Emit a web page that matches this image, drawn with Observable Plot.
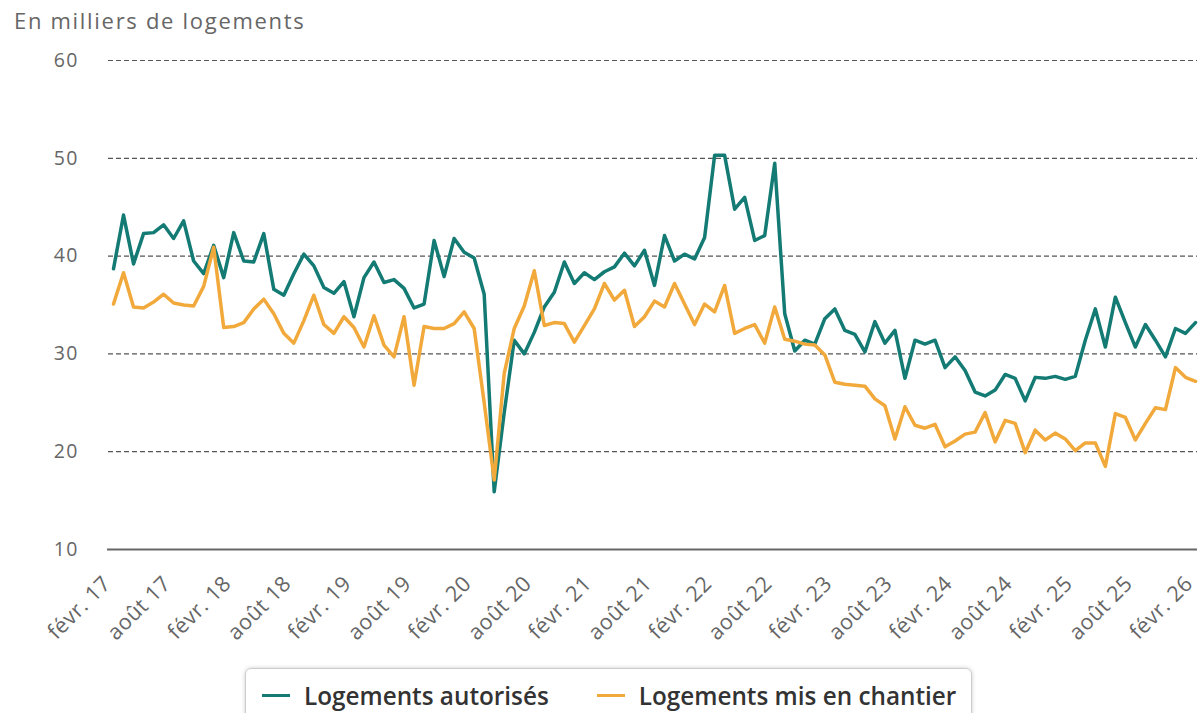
<!DOCTYPE html>
<html>
<head>
<meta charset="utf-8">
<script src="https://cdn.jsdelivr.net/npm/d3@7"></script>
<script src="https://cdn.jsdelivr.net/npm/@observablehq/plot@0.6"></script>
<style>
  html, body { margin: 0; padding: 0; background: #fff; }
  body { width: 1201px; height: 713px; overflow: hidden; font-family: "Open Sans", sans-serif; }
  #title { height: 40px; line-height: 40px; padding-left: 14px; font-size: 22px; letter-spacing: 1.7px; color: #666; }
  #legend { margin-left: 245px; margin-top: 3px; width: 727px; height: 54px; border: 1px solid #ccc; border-radius: 6px;
            box-shadow: 0 0 4px rgba(0,0,0,0.2); display: flex; align-items: center; box-sizing: border-box; padding-left: 16px; }
  .item { display: flex; align-items: center; font-size: 24.3px; font-weight: 600; color: #333; }
  .sw { width: 28px; height: 3px; margin-right: 14px; }
</style>
</head>
<body>
<div id="title">En milliers de logements</div>
<div id="chart"></div>
<div id="legend"></div>
<script>
const seriesNames = ["Logements autorisés", "Logements mis en chantier"];
const seriesColors = ["#137a74", "#f2a93b"];
const tickLabels = ["févr. 17","août 17","févr. 18","août 18","févr. 19","août 19","févr. 20","août 20","févr. 21","août 21","févr. 22","août 22","févr. 23","août 23","févr. 24","août 24","févr. 25","août 25","févr. 26"];
const yTicks = [10, 20, 30, 40, 50, 60];

const autorises = [38.7,44.2,39.2,42.3,42.4,43.2,41.8,43.6,39.5,38.2,41.1,37.8,42.4,39.5,39.4,42.3,36.6,36.0,38.2,40.2,39.0,36.8,36.2,37.4,33.8,37.8,39.4,37.3,37.6,36.7,34.7,35.1,41.6,37.9,41.8,40.4,39.8,36.1,15.9,24.0,31.4,30.0,32.2,34.8,36.3,39.4,37.2,38.3,37.6,38.4,38.9,40.3,39.0,40.6,37.0,42.1,39.5,40.2,39.7,41.9,50.3,50.3,44.8,46.0,41.6,42.1,49.5,34.1,30.3,31.4,31.0,33.6,34.6,32.4,32.0,30.2,33.3,31.1,32.4,27.5,31.4,31.0,31.4,28.6,29.7,28.3,26.1,25.7,26.3,27.9,27.5,25.2,27.6,27.5,27.7,27.4,27.7,31.4,34.6,30.7,35.8,33.2,30.7,33.0,31.4,29.7,32.6,32.1,33.2];
const chantier = [35.1,38.3,34.8,34.7,35.3,36.1,35.2,35.0,34.9,36.9,40.9,32.7,32.8,33.2,34.6,35.6,34.1,32.1,31.1,33.4,36.0,33.0,32.1,33.8,32.7,30.7,33.9,30.9,29.7,33.8,26.8,32.8,32.6,32.6,33.1,34.3,32.6,25.0,17.1,28.0,32.6,34.9,38.5,32.9,33.2,33.1,31.2,32.9,34.6,37.2,35.5,36.5,32.8,33.8,35.4,34.8,37.2,35.1,33.0,35.1,34.3,37.0,32.1,32.6,33.0,31.1,34.8,31.5,31.3,31.0,30.9,29.9,27.1,26.9,26.8,26.7,25.4,24.7,21.3,24.6,22.7,22.4,22.8,20.5,21.1,21.8,22.0,24.0,21.0,23.2,22.9,19.9,22.2,21.2,21.9,21.3,20.1,20.9,20.9,18.5,23.9,23.5,21.2,22.9,24.5,24.3,28.6,27.6,27.2];

const rows = [];
autorises.forEach((v, i) => rows.push({i, v, serie: seriesNames[0]}));
chantier.forEach((v, i) => rows.push({i, v, serie: seriesNames[1]}));
const xTicks = d3.range(0, autorises.length, 6);

const chart = Plot.plot({
  width: 1201,
  height: 625,
  marginTop: 20,
  marginBottom: 116,
  marginLeft: 113,
  marginRight: 6,
  style: { fontFamily: "'Open Sans', sans-serif", color: "#666", background: "transparent", overflow: "visible" },
  x: { domain: [0, autorises.length - 1] },
  y: { domain: [10, 60] },
  color: { domain: seriesNames, range: seriesColors },
  marks: [
    Plot.ruleY(yTicks.slice(1), { stroke: "#555", strokeWidth: 1.2, strokeDasharray: "5,3", insetLeft: -5, insetRight: -2 }),
    Plot.ruleY([10], { stroke: "#666", strokeWidth: 2, insetLeft: -6, insetRight: -2 }),
    Plot.axisY({ ticks: yTicks, tickSize: 0, tickPadding: 35, fontSize: 19.5, label: null }),
    Plot.axisX({ ticks: xTicks, tickFormat: i => tickLabels[i / 6], tickRotate: -45, tickSize: 0, tickPadding: 12, fontSize: 21.5, label: null }),
    Plot.line(rows, { x: "i", y: "v", z: "serie", stroke: "serie", strokeWidth: 3.5, strokeLinejoin: "round" })
  ]
});
chart.querySelectorAll('g[aria-label="y-axis tick label"] text').forEach(t => t.style.letterSpacing = "1.2px");
// place rotated month labels: baseline end just below each tick, at -45°
const xs = chart.scale("x");
const ys = chart.scale("y");
const gx = chart.querySelector('g[aria-label="x-axis tick label"]');
if (gx) {
  gx.removeAttribute("transform");
  gx.setAttribute("text-anchor", "end");
  gx.querySelectorAll("text").forEach((t, k) => {
    const px = xs.apply(xTicks[k]) - 1;
    const py = ys.apply(10) + 36;
    t.setAttribute("transform", `translate(${px},${py}) rotate(-45)`);
    t.removeAttribute("dy");
    t.removeAttribute("y");
    t.removeAttribute("x");
    t.style.letterSpacing = "0.5px";
  });
}
document.getElementById("chart").append(chart);

const legend = document.getElementById("legend");
seriesNames.forEach((name, k) => {
  const it = document.createElement("div");
  it.className = "item";
  if (k > 0) it.style.marginLeft = "48px";
  const sw = document.createElement("span");
  sw.className = "sw";
  sw.style.background = seriesColors[k];
  it.append(sw, document.createTextNode(name));
  legend.append(it);
});
</script>
</body>
</html>
